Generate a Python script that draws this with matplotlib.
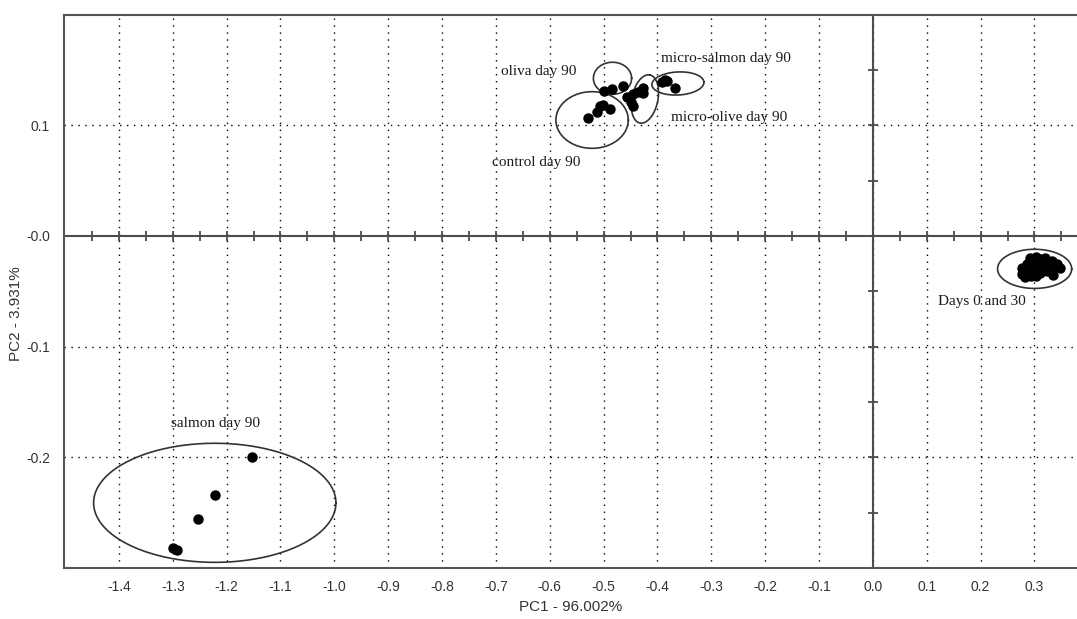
import numpy as np
import matplotlib
matplotlib.use("Agg")
import matplotlib.pyplot as plt

# PCA scores (PC1, PC2) per sample group
control_x = [-0.5286, -0.5119, -0.5069, -0.5019, -0.4883]
control_y = [0.1064, 0.1123, 0.1175, 0.1184, 0.1148]

oliva_x = [-0.4994, -0.4840, -0.4647]
oliva_y = [0.1310, 0.1326, 0.1358]

micro_olive_x = [-0.4573, -0.4450, -0.4493, -0.4450, -0.4357, -0.4265, -0.4265]
micro_olive_y = [0.1259, 0.1280, 0.1214, 0.1175, 0.1304, 0.1335, 0.1295]

micro_salmon_x = [-0.3923, -0.3862, -0.3830, -0.3676]
micro_salmon_y = [0.1389, 0.1410, 0.1403, 0.1340]

salmon_x = [-1.1535, -1.2217, -1.2526, -1.2990, -1.2917]
salmon_y = [-0.2000, -0.2340, -0.2560, -0.2820, -0.2837]

days_x = [0.2766, 0.2766, 0.2859, 0.2859, 0.2915, 0.2971, 0.2971, 0.3026,
          0.3064, 0.3101, 0.3101, 0.3157, 0.3194, 0.3194, 0.3249, 0.3287,
          0.3323, 0.3360, 0.3416, 0.3472, 0.2822, 0.2933, 0.3026, 0.3138,
          0.3231, 0.2915, 0.3008, 0.3175, 0.3336, 0.3100, 0.3250, 0.2800]
days_y = [-0.0289, -0.0343, -0.0253, -0.0325, -0.0199, -0.0235, -0.0307, -0.0190,
          -0.0271, -0.0208, -0.0334, -0.0235, -0.0199, -0.0289, -0.0244, -0.0271,
          -0.0226, -0.0280, -0.0253, -0.0289, -0.0370, -0.0361, -0.0361, -0.0307,
          -0.0316, -0.0271, -0.0217, -0.0262, -0.0352, -0.0250, -0.0300, -0.0310]

# confidence ellipses: centre, first and second half-axis vectors
ell_centres = [(-0.5214, 0.1048), (-0.4835, 0.1425), (-0.4233, 0.1238),
               (-0.3620, 0.1378), (-1.2220, -0.2411), (0.3003, -0.0297)]
ell_axis_a = [(0.0672, 0.0), (0.0355, 0.0), (0.0093, 0.0217),
              (0.0483, 0.0012), (0.2250, 0.0), (0.0688, 0.0)]
ell_axis_b = [(0.0, 0.0256), (0.0, 0.0145), (0.0236, -0.0024),
              (-0.0010, 0.0104), (0.0, 0.0538), (0.0, 0.0177)]

labels = ["oliva day 90", "micro-salmon day 90", "micro-olive day 90",
          "control day 90", "Days 0 and 30", "salmon day 90"]
label_pos = [(-0.6907, 0.1482), (-0.3936, 0.1608), (-0.3750, 0.1075),
             (-0.7074, 0.0660), (0.1207, -0.0596), (-1.3034, -0.1690)]

x_ticks = np.round(np.arange(-1.4, 0.31, 0.1), 1)
y_ticks = [0.1, 0.0, -0.1, -0.2]
y_ticklabels = ["0.1", "-0.0", "-0.1", "-0.2"]

fig = plt.figure(figsize=(10.77, 6.19), dpi=100)
ax = fig.add_axes([0.0594, 0.0824, 0.9406, 0.8934])
ax.set_xlim(-1.502, 0.379)
ax.set_ylim(-0.300, 0.1997)

# dotted grid
for xv in x_ticks:
    ax.axvline(xv, color="black", lw=1.0, ls=(0, (1, 4)), zorder=1)
for yv in y_ticks:
    if yv != 0.0:
        ax.axhline(yv, color="black", lw=1.0, ls=(0, (1, 4)), zorder=1)

# zero axes with small cross ticks
zc = "#4d4d4d"
ax.axhline(0, color=zc, lw=1.5, zorder=2)
ax.axvline(0, color=zc, lw=1.5, zorder=2)
minor_x = np.arange(-1.45, 0.38, 0.05)
minor_y = np.arange(-0.25, 0.2, 0.05)
ax.plot(minor_x, np.zeros_like(minor_x), ls="none", marker="|", ms=7,
        mew=1.3, color=zc, zorder=2)
ax.plot(np.zeros_like(minor_y), minor_y, ls="none", marker="_", ms=7,
        mew=1.3, color=zc, zorder=2)

# ellipses
t = np.linspace(0, 2 * np.pi, 300)
for (cx, cy), (ax_, ay_), (bx, by) in zip(ell_centres, ell_axis_a, ell_axis_b):
    ax.plot(cx + ax_ * np.cos(t) + bx * np.sin(t),
            cy + ay_ * np.cos(t) + by * np.sin(t),
            color="#333333", lw=1.2, zorder=3)

# score points
for xs, ys in [(control_x, control_y), (oliva_x, oliva_y),
               (micro_olive_x, micro_olive_y), (micro_salmon_x, micro_salmon_y),
               (salmon_x, salmon_y), (days_x, days_y)]:
    ax.plot(xs, ys, ls="none", marker="o", ms=6.5, color="black", zorder=4)

# group labels
for txt, (tx, ty) in zip(labels, label_pos):
    ax.text(tx, ty, txt, family="Liberation Serif", fontsize=11,
            color="#1a1a1a", ha="left", va="center", zorder=5)

# frame
for side in ["left", "top", "bottom"]:
    ax.spines[side].set_color("#555555")
    ax.spines[side].set_linewidth(1.5)
ax.spines["right"].set_visible(False)

ax.set_xticks(x_ticks)
ax.set_xticklabels([f"{v:.1f}" for v in x_ticks], family="Liberation Sans",
                   fontsize=10, color="#333333")
ax.set_yticks(y_ticks)
ax.set_yticklabels(y_ticklabels, family="Liberation Sans", fontsize=10,
                   color="#333333")
ax.tick_params(axis="both", length=0, pad=9)
ax.tick_params(axis="y", pad=10)

ax.set_xlabel("PC1 - 96.002%", family="Liberation Sans", fontsize=11,
              color="#333333")
ax.xaxis.set_label_coords(0.5, -0.058)
ax.set_ylabel("PC2 - 3.931%", family="Liberation Sans", fontsize=11,
              color="#333333")
ax.yaxis.set_label_coords(-0.040, 0.46)

fig.savefig("out.png", dpi=100)
